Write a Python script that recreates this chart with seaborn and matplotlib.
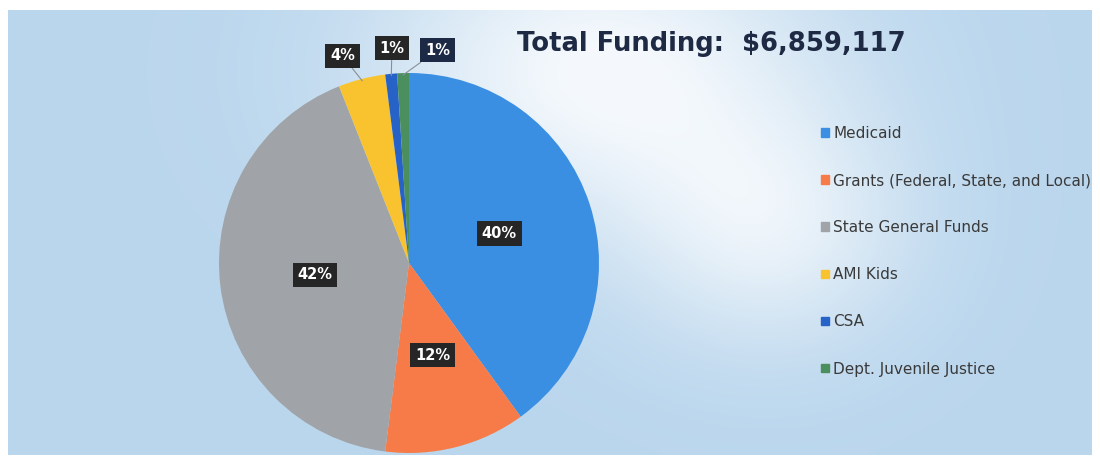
import numpy as np
import matplotlib
matplotlib.use("Agg")
import matplotlib.pyplot as plt
import seaborn as sns

# Data
sources = ["Medicaid", "Grants (Federal, State, and Local)", "State General Funds",
           "AMI Kids", "CSA", "Dept. Juvenile Justice"]
shares = [40, 12, 42, 4, 1, 1]
pct_labels = ["40%", "12%", "42%", "4%", "1%", "1%"]
slice_colors = ["#3b8fe2", "#f77b48", "#a0a3a7", "#f9c32f", "#2762c6", "#4b8f5e"]
title_text = "Total Funding:  $6,859,117"

# outside label placement for the small slices (axes data units, radius = 1)
outside_pos = {3: (-0.35, 1.09), 4: (-0.09, 1.13), 5: (0.15, 1.12)}
box_colors = {5: "#1c2a46"}

sns.set_theme(style="white")
plt.rcParams["font.family"] = ["DejaVu Sans"]

W, H = 1100, 461
fig = plt.figure(figsize=(W / 100, H / 100), dpi=100)
fig.patch.set_facecolor("white")

# background panel: light blue with a white wash near the top middle
bg = fig.add_axes([8 / W, (H - 455) / H, (1092 - 8) / W, (455 - 10) / H])
bg.set_axis_off()
ny, nx = 120, 300
yy, xx = np.mgrid[0:ny, 0:nx]
gx, gy = xx / nx * 1084, yy / ny * 445
wash = np.exp(-(((gx - 590) / 220) ** 2 + ((gy - 60) / 150) ** 2))
wash += 0.7 * np.exp(-(((gx - 760) / 140) ** 2 + ((gy - 220) / 120) ** 2))
wash = np.clip(wash, 0, 1) * 0.85
base = np.array([0.73, 0.84, 0.93])
img = base[None, None, :] * (1 - wash[..., None]) + wash[..., None]
bg.imshow(img, aspect="auto", interpolation="bilinear")

# pie
cx, cy, r = 409, 263, 190
ax = fig.add_axes([(cx - r) / W, (H - cy - r) / H, 2 * r / W, 2 * r / H])
ax.set_facecolor("none")
wedges, _ = ax.pie(shares, colors=slice_colors, startangle=90, counterclock=False,
                   radius=1, wedgeprops=dict(linewidth=0))
ax.set_xlim(-1, 1)
ax.set_ylim(-1, 1)
ax.set_aspect("equal")
ax.set_axis_off()

for i, w in enumerate(wedges):
    ang = np.deg2rad((w.theta1 + w.theta2) / 2)
    dx, dy = np.cos(ang), np.sin(ang)
    bbox = dict(boxstyle="square,pad=0.32", fc=box_colors.get(i, "#262626"), ec="none")
    if i in outside_pos:
        ax.annotate(pct_labels[i], xy=(dx * 0.99, dy * 0.99), xytext=outside_pos[i],
                    ha="center", va="center", color="white", fontsize=10.5,
                    fontweight="bold", bbox=bbox, annotation_clip=False,
                    arrowprops=dict(arrowstyle="-", color="#8a8f96", lw=0.8,
                                    shrinkA=0, shrinkB=0))
    else:
        ax.text(dx * 0.5, dy * 0.5, pct_labels[i], ha="center", va="center",
                color="white", fontsize=10.5, fontweight="bold", bbox=bbox)

# title
fig.text(517 / W, 1 - 44 / H, title_text, ha="left", va="center",
         fontsize=18.6, fontweight="bold", color="#1e2a44")

# legend
handles = [plt.Rectangle((0, 0), 1, 1, color=c) for c in slice_colors]
leg = fig.legend(handles, sources, loc="upper left",
                 bbox_to_anchor=(815 / W, 1 - 120 / H), frameon=False,
                 fontsize=11, handlelength=0.5, handleheight=0.5,
                 handletextpad=0.3, labelspacing=2.1, borderaxespad=0)
for t in leg.get_texts():
    t.set_color("#3a3a3a")

fig.savefig("out.png", dpi=100)
